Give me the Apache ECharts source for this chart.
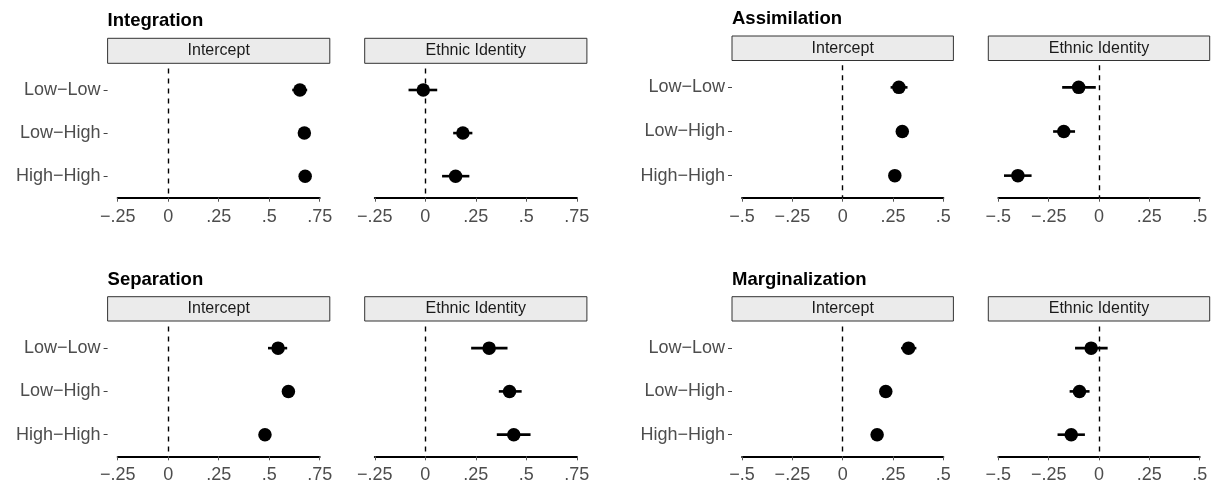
<!DOCTYPE html>
<html>
<head>
<meta charset="utf-8">
<script src="https://cdn.jsdelivr.net/npm/echarts@6/dist/echarts.min.js"></script>
<style>
html,body{margin:0;padding:0;background:#fff;}
#chart{width:1216px;height:485px;}
</style>
</head>
<body>
<div id="chart"></div>
<script>
// ---------------- DATA ----------------
const categories = ['Low\u2212Low', 'Low\u2212High', 'High\u2212High'];
const panelTitles = ['Integration', 'Assimilation', 'Separation', 'Marginalization'];
const facetNames = ['Intercept', 'Ethnic Identity'];

// tick values and labels (left column: -.25..75, right column: -.5...5)
const ticksLeft = [-0.25, 0, 0.25, 0.5, 0.75];
const tickLabelsLeft = ['\u2212.25', '0', '.25', '.5', '.75'];
const ticksRight = [-0.5, -0.25, 0, 0.25, 0.5];
const tickLabelsRight = ['\u2212.5', '\u2212.25', '0', '.25', '.5'];

// Integration
const integInterceptEst = [0.652, 0.674, 0.678];
const integInterceptLo  = [0.614, 0.659, 0.663];
const integInterceptHi  = [0.688, 0.689, 0.693];
const integEthnicEst = [-0.010, 0.186, 0.150];
const integEthnicLo  = [-0.083, 0.138, 0.083];
const integEthnicHi  = [0.059, 0.233, 0.218];

// Assimilation
const assimInterceptEst = [0.279, 0.296, 0.259];
const assimInterceptLo  = [0.238, 0.281, 0.244];
const assimInterceptHi  = [0.322, 0.311, 0.274];
const assimEthnicEst = [-0.101, -0.175, -0.403];
const assimEthnicLo  = [-0.183, -0.228, -0.472];
const assimEthnicHi  = [-0.016, -0.119, -0.335];

// Separation
const sepInterceptEst = [0.544, 0.595, 0.479];
const sepInterceptLo  = [0.494, 0.580, 0.464];
const sepInterceptHi  = [0.589, 0.610, 0.494];
const sepEthnicEst = [0.316, 0.417, 0.438];
const sepEthnicLo  = [0.227, 0.364, 0.354];
const sepEthnicHi  = [0.407, 0.477, 0.521];

// Marginalization
const margInterceptEst = [0.327, 0.214, 0.171];
const margInterceptLo  = [0.290, 0.199, 0.156];
const margInterceptHi  = [0.366, 0.229, 0.186];
const margEthnicEst = [-0.039, -0.097, -0.138];
const margEthnicLo  = [-0.119, -0.146, -0.206];
const margEthnicHi  = [0.043, -0.047, -0.070];

const panelData = [
  [[integInterceptEst, integInterceptLo, integInterceptHi], [integEthnicEst, integEthnicLo, integEthnicHi]],
  [[assimInterceptEst, assimInterceptLo, assimInterceptHi], [assimEthnicEst, assimEthnicLo, assimEthnicHi]],
  [[sepInterceptEst, sepInterceptLo, sepInterceptHi], [sepEthnicEst, sepEthnicLo, sepEthnicHi]],
  [[margInterceptEst, margInterceptLo, margInterceptHi], [margEthnicEst, margEthnicLo, margEthnicHi]]
];

// ---------------- LAYOUT ----------------
const FONT = 'Liberation Sans, Arial, Helvetica, sans-serif';
const colFacetX = [
  [[107.6, 329.8], [364.7, 586.9]],
  [[732.0, 953.4], [988.3, 1209.7]]
];
const colTicks = [[ticksLeft, tickLabelsLeft], [ticksRight, tickLabelsRight]];
const panelLayout = [
  {col: 0, strip: [38.3, 63.3], grid: [68.45, 197.7], titleY: 20.5},
  {col: 1, strip: [36.0, 60.5], grid: [65.3, 197.7], titleY: 19},
  {col: 0, strip: [296.7, 321.0], grid: [326.5, 456.3], titleY: 279.5},
  {col: 1, strip: [296.7, 321.0], grid: [326.5, 456.3], titleY: 279.5}
];

const grids = [], xAxes = [], yAxes = [], series = [], graphics = [];

panelLayout.forEach((pl, p) => {
  const facX = colFacetX[pl.col];
  const [tks, tkl] = colTicks[pl.col];
  graphics.push({
    type: 'text', x: facX[0][0], y: pl.titleY, z: 10,
    style: {text: panelTitles[p], font: 'bold 18.5px ' + FONT, fill: '#000', textAlign: 'left', textVerticalAlign: 'middle'}
  });
  facX.forEach((fx, f) => {
    const gi = grids.length;
    const w = fx[1] - fx[0];
    const pad = w / 22;
    grids.push({left: fx[0] + pad, top: pl.grid[0], width: w - 2 * pad, height: pl.grid[1] - pl.grid[0], containLabel: false});
    // strip
    graphics.push({
      type: 'rect', z: 5,
      shape: {x: fx[0], y: pl.strip[0], width: w, height: pl.strip[1] - pl.strip[0]},
      style: {fill: '#EBEBEB', stroke: '#333333', lineWidth: 1}
    });
    graphics.push({
      type: 'text', z: 6,
      x: fx[0] + w / 2, y: (pl.strip[0] + pl.strip[1]) / 2,
      style: {text: facetNames[f], font: '16px ' + FONT, fill: '#1A1A1A', textAlign: 'center', textVerticalAlign: 'middle'}
    });
    xAxes.push({
      type: 'value', gridIndex: gi,
      min: tks[0], max: tks[tks.length - 1], interval: 0.25,
      splitLine: {show: false},
      axisLine: {show: true, onZero: false, lineStyle: {color: '#000', width: 2}},
      axisTick: {show: true, length: 4, lineStyle: {color: '#555', width: 1}},
      axisLabel: {
        show: true, margin: 10, color: '#4D4D4D', fontSize: 18, fontFamily: FONT,
        showMinLabel: true, showMaxLabel: true,
        formatter: v => { const i = tks.findIndex(t => Math.abs(t - v) < 1e-9); return i >= 0 ? tkl[i] : ''; }
      }
    });
    yAxes.push({
      type: 'category', gridIndex: gi, inverse: true, data: categories,
      offset: pad, boundaryGap: true,
      axisLine: {show: false, onZero: false},
      axisTick: {show: f === 0, alignWithLabel: true, length: 4, lineStyle: {color: '#444', width: 1}},
      axisLabel: {show: f === 0, margin: 7, color: '#4D4D4D', fontSize: 18, fontFamily: FONT},
      splitLine: {show: false}
    });
    const [est, lo, hi] = panelData[p][f];
    series.push({
      type: 'custom', xAxisIndex: gi, yAxisIndex: gi, z: 3, silent: true,
      data: categories.map((c, i) => [i, lo[i], hi[i]]),
      renderItem: (params, api) => {
        const a = api.coord([api.value(1), api.value(0)]);
        const b = api.coord([api.value(2), api.value(0)]);
        return {type: 'line', shape: {x1: a[0], y1: a[1], x2: b[0], y2: b[1]}, style: {stroke: '#000', lineWidth: 2.6}};
      },
      markLine: {
        silent: true, symbol: 'none', label: {show: false},
        lineStyle: {color: '#000', width: 1.4, type: [5, 5], opacity: 1},
        data: [{xAxis: 0}]
      }
    });
    series.push({
      type: 'scatter', xAxisIndex: gi, yAxisIndex: gi, z: 4, silent: true,
      symbol: 'circle', symbolSize: 13.5,
      itemStyle: {color: '#000', opacity: 1},
      data: categories.map((c, i) => [est[i], i])
    });
  });
});

const chart = echarts.init(document.getElementById('chart'), null, {renderer: 'canvas'});
chart.setOption({
  animation: false,
  backgroundColor: '#fff',
  grid: grids, xAxis: xAxes, yAxis: yAxes, series: series, graphic: graphics
});
</script>
</body>
</html>
